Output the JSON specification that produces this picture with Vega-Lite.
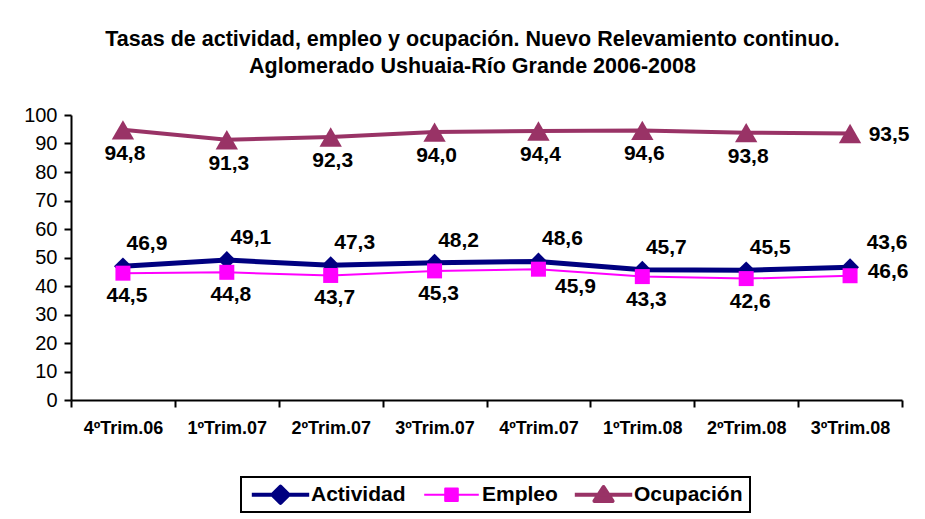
{
  "$schema": "https://vega.github.io/schema/vega-lite/v6.json",
  "autosize": "none",
  "width": 831,
  "height": 285,
  "padding": {"left": 71, "top": 115, "right": 23, "bottom": 119},
  "background": "white",
  "title": {
    "text": ["Tasas de actividad, empleo y ocupación. Nuevo Relevamiento continuo.", "Aglomerado Ushuaia-Río Grande 2006-2008"],
    "font": "Liberation Sans",
    "fontSize": 21.5,
    "fontWeight": "bold",
    "color": "black",
    "lineHeight": 27,
    "anchor": "middle",
    "frame": "group",
    "dx": -14,
    "offset": 28
  },
  "data": {
    "values": [
      {"trim": "4ºTrim.06", "serie": "Actividad", "valor": 46.9},
      {"trim": "1ºTrim.07", "serie": "Actividad", "valor": 49.1},
      {"trim": "2ºTrim.07", "serie": "Actividad", "valor": 47.3},
      {"trim": "3ºTrim.07", "serie": "Actividad", "valor": 48.2},
      {"trim": "4ºTrim.07", "serie": "Actividad", "valor": 48.6},
      {"trim": "1ºTrim.08", "serie": "Actividad", "valor": 45.7},
      {"trim": "2ºTrim.08", "serie": "Actividad", "valor": 45.5},
      {"trim": "3ºTrim.08", "serie": "Actividad", "valor": 46.6},
      {"trim": "4ºTrim.06", "serie": "Empleo", "valor": 44.5},
      {"trim": "1ºTrim.07", "serie": "Empleo", "valor": 44.8},
      {"trim": "2ºTrim.07", "serie": "Empleo", "valor": 43.7},
      {"trim": "3ºTrim.07", "serie": "Empleo", "valor": 45.3},
      {"trim": "4ºTrim.07", "serie": "Empleo", "valor": 45.9},
      {"trim": "1ºTrim.08", "serie": "Empleo", "valor": 43.3},
      {"trim": "2ºTrim.08", "serie": "Empleo", "valor": 42.6},
      {"trim": "3ºTrim.08", "serie": "Empleo", "valor": 43.6},
      {"trim": "4ºTrim.06", "serie": "Ocupación", "valor": 94.8},
      {"trim": "1ºTrim.07", "serie": "Ocupación", "valor": 91.3},
      {"trim": "2ºTrim.07", "serie": "Ocupación", "valor": 92.3},
      {"trim": "3ºTrim.07", "serie": "Ocupación", "valor": 94.0},
      {"trim": "4ºTrim.07", "serie": "Ocupación", "valor": 94.4},
      {"trim": "1ºTrim.08", "serie": "Ocupación", "valor": 94.6},
      {"trim": "2ºTrim.08", "serie": "Ocupación", "valor": 93.8},
      {"trim": "3ºTrim.08", "serie": "Ocupación", "valor": 93.5}
    ]
  },
  "encoding": {
    "x": {
      "field": "trim",
      "type": "nominal",
      "sort": ["4ºTrim.06", "1ºTrim.07", "2ºTrim.07", "3ºTrim.07", "4ºTrim.07", "1ºTrim.08", "2ºTrim.08", "3ºTrim.08"],
      "scale": {"paddingInner": 0, "paddingOuter": 0},
      "axis": {
        "title": null,
        "labelAngle": 0,
        "labelFont": "Liberation Sans",
        "labelFontSize": 18,
        "labelFontWeight": "bold",
        "labelColor": "black",
        "labelPadding": 12,
        "tickBand": "extent",
        "tickSize": 7,
        "tickWidth": 2,
        "tickColor": "black",
        "domainColor": "black",
        "domainWidth": 2,
        "grid": false
      }
    },
    "y": {
      "field": "valor",
      "type": "quantitative",
      "scale": {"domain": [0, 100], "nice": false},
      "axis": {
        "title": null,
        "values": [0, 10, 20, 30, 40, 50, 60, 70, 80, 90, 100],
        "labelFont": "Liberation Sans",
        "labelFontSize": 20,
        "labelColor": "black",
        "labelPadding": 7,
        "tickSize": 7,
        "tickWidth": 2,
        "tickColor": "black",
        "domainColor": "black",
        "domainWidth": 2,
        "grid": false
      }
    }
  },
  "layer": [
    {
      "mark": {"type": "line"},
      "encoding": {
        "stroke": {
          "field": "serie", "type": "nominal",
          "scale": {"domain": ["Actividad", "Empleo", "Ocupación"], "range": ["#000080", "#FF00FF", "#993366"]},
          "legend": null
        },
        "strokeWidth": {
          "field": "serie", "type": "nominal",
          "scale": {"type": "ordinal", "domain": ["Actividad", "Empleo", "Ocupación"], "range": [5, 2, 4]},
          "legend": null
        }
      }
    },
    {
      "mark": {"type": "point", "filled": true, "opacity": 1},
      "encoding": {
        "fill": {
          "field": "serie", "type": "nominal",
          "scale": {"domain": ["Actividad", "Empleo", "Ocupación"], "range": ["#000080", "#FF00FF", "#993366"]},
          "legend": null
        },
        "shape": {
          "field": "serie", "type": "nominal",
          "scale": {"domain": ["Actividad", "Empleo", "Ocupación"], "range": ["diamond", "square", "triangle-up"]},
          "legend": null
        },
        "size": {
          "field": "serie", "type": "nominal",
          "scale": {"type": "ordinal", "domain": ["Actividad", "Empleo", "Ocupación"], "range": [320, 225, 500]},
          "legend": null
        }
      }
    },
    {
      "mark": {"type": "point", "filled": true, "opacity": 0},
      "encoding": {
        "color": {
          "field": "serie", "type": "nominal",
          "scale": {"domain": ["Actividad", "Empleo", "Ocupación"], "range": ["#000080", "#FF00FF", "#993366"]},
          "legend": {
            "title": null,
            "orient": "none",
            "legendX": 170,
            "legendY": 362,
            "direction": "horizontal",
            "strokeColor": "black",
            "padding": 7,
            "columnPadding": 13,
            "symbolSize": 196,
            "symbolOffset": 22,
            "labelOffset": 20,
            "symbolOpacity": 1,
            "labelFont": "Liberation Sans",
            "labelFontSize": 21,
            "labelFontWeight": "bold",
            "labelColor": "black",
            "encode": {
              "legend": {"update": {"strokeWidth": {"value": 2}}},
              "symbols": {
                "update": {
                  "opacity": {"value": 1},
                  "strokeJoin": {"value": "round"},
                  "fill": {"signal": "datum.value === 'Actividad' ? '#000080' : datum.value === 'Empleo' ? '#FF00FF' : '#993366'"},
                  "stroke": {"signal": "datum.value === 'Actividad' ? '#000080' : datum.value === 'Empleo' ? '#FF00FF' : '#993366'"},
                  "strokeWidth": {"signal": "datum.value === 'Empleo' ? 2 : 4"}
                }
              }
            }
          }
        },
        "shape": {
          "field": "serie", "type": "nominal",
          "scale": {"domain": ["Actividad", "Empleo", "Ocupación"], "range": ["M-4.1,0H4.1M0,-1.15L1.15,0L0,1.15L-1.15,0Z", "M-3.9,0H3.9M-0.9,-0.9H0.9V0.9H-0.9Z", "M-4.1,0H4.1M0,-1.1L1.3,0.9H-1.3Z"]}
        }
      }
    },
    {
      "transform": [{"filter": "datum.serie === 'Actividad' && datum.trim !== '3ºTrim.08'"}],
      "mark": {"type": "text", "font": "Liberation Sans", "fontSize": 21, "fontWeight": "bold", "color": "black", "dx": 24, "dy": -22},
      "encoding": {"text": {"field": "valor", "type": "quantitative", "format": ".1f"}}
    },
    {
      "transform": [{"filter": "datum.serie === 'Actividad' && datum.trim === '3ºTrim.08'"}],
      "mark": {"type": "text", "font": "Liberation Sans", "fontSize": 21, "fontWeight": "bold", "color": "black", "dx": 38, "dy": 5},
      "encoding": {"text": {"field": "valor", "type": "quantitative", "format": ".1f"}}
    },
    {
      "transform": [{"filter": "datum.serie === 'Empleo' && datum.trim !== '3ºTrim.08' && datum.trim !== '4ºTrim.07'"}],
      "mark": {"type": "text", "font": "Liberation Sans", "fontSize": 21, "fontWeight": "bold", "color": "black", "dx": 4, "dy": 23},
      "encoding": {"text": {"field": "valor", "type": "quantitative", "format": ".1f"}}
    },
    {
      "transform": [{"filter": "datum.serie === 'Empleo' && datum.trim === '4ºTrim.07'"}],
      "mark": {"type": "text", "font": "Liberation Sans", "fontSize": 21, "fontWeight": "bold", "color": "black", "dx": 37, "dy": 18},
      "encoding": {"text": {"field": "valor", "type": "quantitative", "format": ".1f"}}
    },
    {
      "transform": [{"filter": "datum.serie === 'Empleo' && datum.trim === '3ºTrim.08'"}],
      "mark": {"type": "text", "font": "Liberation Sans", "fontSize": 21, "fontWeight": "bold", "color": "black", "dx": 37, "dy": -33},
      "encoding": {"text": {"field": "valor", "type": "quantitative", "format": ".1f"}}
    },
    {
      "transform": [{"filter": "datum.serie === 'Ocupación' && datum.trim !== '3ºTrim.08'"}],
      "mark": {"type": "text", "font": "Liberation Sans", "fontSize": 21, "fontWeight": "bold", "color": "black", "dx": 2, "dy": 24},
      "encoding": {"text": {"field": "valor", "type": "quantitative", "format": ".1f"}}
    },
    {
      "transform": [{"filter": "datum.serie === 'Ocupación' && datum.trim === '3ºTrim.08'"}],
      "mark": {"type": "text", "font": "Liberation Sans", "fontSize": 21, "fontWeight": "bold", "color": "black", "dx": 39, "dy": 1},
      "encoding": {"text": {"field": "valor", "type": "quantitative", "format": ".1f"}}
    }
  ],
  "resolve": {"scale": {"shape": "independent", "color": "independent"}},
  "config": {
    "font": "Liberation Sans",
    "view": {"stroke": null},
    "locale": {"number": {"decimal": ",", "thousands": ".", "grouping": [3], "currency": ["$", ""]}}
  }
}
